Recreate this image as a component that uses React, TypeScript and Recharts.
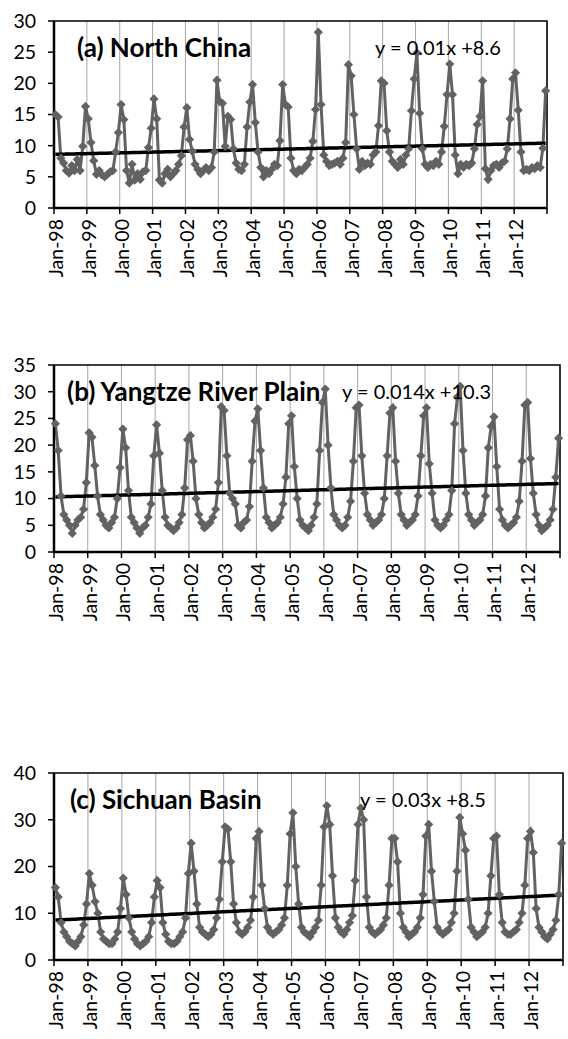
import React from 'react';
import { LineChart, Line, XAxis, YAxis, CartesianGrid, ReferenceArea } from 'recharts';

// monthly values, Jan-98 .. Dec-12, one row per year
const northChina: number[] = [
  15.0, 14.6, 8.0, 7.2, 6.0, 5.6, 6.8, 6.0, 7.8, 6.0, 9.9, 16.3,
  14.3, 10.5, 7.6, 5.4, 6.0, 5.3, 5.0, 5.4, 5.8, 6.0, 9.0, 12.1,
  16.6, 14.2, 6.0, 4.0, 7.0, 4.5, 5.5, 4.6, 5.8, 6.0, 9.7, 12.8,
  17.5, 14.3, 4.5, 4.0, 5.5, 6.2, 5.0, 5.5, 6.0, 7.0, 8.4, 13.0,
  16.1, 11.0, 9.1, 7.0, 6.2, 5.5, 6.0, 6.5, 6.0, 6.5, 9.0, 20.5,
  17.1, 16.8, 9.9, 14.7, 14.2, 9.5, 7.2, 6.2, 6.0, 7.0, 13.0, 17.0,
  19.8, 13.7, 9.0, 6.5, 5.0, 6.0, 5.5, 6.2, 7.0, 6.8, 10.8, 19.8,
  16.6, 16.2, 8.0, 6.0, 5.5, 6.2, 6.0, 6.5, 7.0, 8.0, 10.7, 15.8,
  28.2, 16.6, 8.5, 7.5, 6.8, 7.0, 7.2, 7.5, 7.0, 8.0, 10.5, 23.0,
  21.2, 15.0, 9.5, 6.2, 7.5, 6.8, 7.2, 7.0, 8.5, 9.0, 13.2, 20.4,
  20.0, 12.4, 9.0, 7.5, 7.0, 6.5, 7.8, 7.0, 8.5, 9.5, 15.6, 20.7,
  24.9, 15.2, 9.5, 7.0, 6.5, 7.0, 6.8, 7.5, 7.0, 9.0, 13.1, 18.2,
  23.1, 18.2, 8.5, 5.5, 7.0, 6.5, 7.0, 6.8, 7.2, 9.5, 13.4, 14.7,
  20.4, 6.3, 4.6, 6.0, 6.8, 7.0, 6.5, 7.2, 7.5, 9.5, 14.3, 20.7,
  21.7, 15.7, 9.0, 6.0, 6.2, 6.0, 6.5, 6.3, 6.8, 6.5, 9.6, 18.8,
];

const yangtze: number[] = [
  24.0, 19.0, 10.5, 7.0, 6.0, 5.0, 3.5, 5.0, 6.0, 6.5, 8.0, 13.0,
  22.3, 21.5, 16.2, 10.5, 7.0, 6.0, 5.0, 4.5, 5.5, 6.5, 10.0, 15.8,
  23.0, 19.5, 11.5, 6.5, 5.5, 4.5, 3.5, 4.5, 5.0, 6.5, 9.0, 18.0,
  23.8, 18.5, 11.5, 6.5, 5.0, 4.5, 4.0, 4.5, 5.5, 7.0, 12.0, 21.0,
  21.8, 17.0, 10.0, 7.0, 5.5, 4.5, 5.0, 5.5, 6.5, 8.0, 13.0, 27.2,
  26.5, 18.0, 11.0, 10.0, 9.0, 5.0, 4.5, 5.5, 6.0, 8.5, 17.0, 24.5,
  26.8, 19.0, 12.0, 6.5, 5.5, 4.5, 5.0, 5.5, 6.5, 9.0, 14.0, 24.0,
  25.5, 16.0, 10.0, 6.0, 5.0, 4.5, 4.0, 5.0, 6.5, 9.0, 19.0, 28.0,
  30.5, 20.0, 12.0, 7.0, 6.0, 5.0, 4.5, 5.0, 6.5, 9.5, 17.0, 27.0,
  27.5, 18.0, 11.0, 7.0, 6.0, 5.0, 5.5, 6.0, 7.0, 10.0, 18.0, 26.0,
  27.0, 17.0, 11.0, 7.0, 6.0, 5.0, 5.5, 6.0, 7.0, 10.5, 18.0, 25.5,
  27.0, 16.5, 11.0, 6.0, 5.0, 4.5, 5.0, 6.0, 7.0, 11.5, 24.0, 29.0,
  31.0, 19.0, 11.0, 7.0, 6.0, 5.0, 5.5, 6.0, 7.0, 10.5, 19.5, 23.5,
  25.3, 16.0, 8.0, 6.0, 5.0, 4.5, 5.0, 5.5, 6.5, 9.5, 17.0, 27.5,
  28.0, 17.5, 11.0, 7.0, 5.0, 4.0, 4.5, 5.0, 6.0, 8.0, 14.0, 21.3,
];

const sichuan: number[] = [
  15.5, 13.5, 8.0, 6.0, 5.0, 4.0, 3.5, 3.0, 4.0, 5.0, 7.5, 12.0,
  18.5, 16.0, 12.5, 10.0, 6.0, 4.5, 4.0, 3.5, 3.5, 4.5, 6.0, 11.0,
  17.5, 14.0, 9.0, 6.0, 4.5, 3.5, 3.0, 3.5, 4.0, 5.0, 8.0, 13.5,
  17.0, 15.5, 8.0, 5.5, 4.0, 3.5, 3.5, 4.0, 5.0, 6.0, 9.0, 18.5,
  25.0, 19.0, 12.0, 7.0, 6.0, 5.5, 5.0, 5.5, 6.5, 9.0, 13.0, 21.0,
  28.5, 28.0, 21.0, 12.0, 8.0, 6.0, 5.5, 6.0, 7.0, 8.5, 13.5, 26.0,
  27.5, 16.0, 11.0, 7.0, 6.0, 5.5, 6.0, 6.5, 7.5, 9.0, 16.0, 27.0,
  31.5, 20.0, 12.0, 7.0, 6.0, 5.5, 5.0, 6.0, 7.0, 8.5, 16.0, 28.5,
  33.0, 29.0, 18.0, 9.0, 7.0, 6.0, 5.5, 6.5, 8.0, 9.5, 17.0, 29.0,
  32.5, 30.0, 13.5, 7.0, 6.0, 5.5, 6.0, 6.5, 7.5, 9.0, 16.0, 26.0,
  26.0, 21.0, 10.0, 7.0, 6.0, 5.0, 5.5, 6.0, 7.0, 9.0, 14.0, 26.5,
  29.0, 19.0, 12.5, 7.0, 6.0, 5.5, 6.0, 6.5, 8.0, 10.0, 19.0, 30.5,
  27.0, 23.5, 13.0, 7.0, 6.0, 5.0, 5.5, 6.0, 7.0, 10.0, 18.0, 26.0,
  26.5, 14.0, 8.0, 6.0, 5.5, 5.5, 6.0, 6.5, 8.0, 10.0, 16.0, 26.0,
  27.5, 23.0, 11.0, 7.0, 6.0, 5.0, 4.5, 5.5, 6.5, 8.5, 14.0, 25.0,
];

const yearLabels = [
  'Jan-98', 'Jan-99', 'Jan-00', 'Jan-01', 'Jan-02', 'Jan-03', 'Jan-04', 'Jan-05',
  'Jan-06', 'Jan-07', 'Jan-08', 'Jan-09', 'Jan-10', 'Jan-11', 'Jan-12',
];

// trend lines as printed on the chart: y = slope * x + intercept, x = 1..180
const trendA = { slope: 0.01, intercept: 8.6 };
const trendB = { slope: 0.014, intercept: 10.3 };
const trendC = { slope: 0.03, intercept: 8.5 };

const yTicksA = [0, 5, 10, 15, 20, 25, 30];
const yTicksB = [0, 5, 10, 15, 20, 25, 30, 35];
const yTicksC = [0, 10, 20, 30, 40];

const FONT = 'Lato, "Open Sans", sans-serif';
const GRAY = '#626262';
const xTicks = yearLabels.map((_, i) => i * 12).concat([180]);

const buildRows = (values: number[], trend: { slope: number; intercept: number }) =>
  values.map((v, i) => ({
    t: i + 0.5,
    value: v,
    trend: trend.slope * (i + 1) + trend.intercept,
  }));

const Diamond = (props: any) => {
  const { cx, cy, index } = props;
  if (cx == null || cy == null) return <g key={index} />;
  const r = 4.6;
  return (
    <path
      key={index}
      d={`M${cx},${cy - r}L${cx + r},${cy}L${cx},${cy + r}L${cx - r},${cy}Z`}
      fill={GRAY}
    />
  );
};

interface PanelProps {
  top: number;
  rightMargin: number;
  values: number[];
  trend: { slope: number; intercept: number };
  yTicks: number[];
  title: string;
  equation: string;
  titleLeft: number;
  eqLeft: number;
}

const CHART_W = 568;
const PLOT_LEFT = 54;
const PLOT_TOP = 21;
const PLOT_H = 187;

const Panel: React.FC<PanelProps> = ({ top, rightMargin, values, trend, yTicks, title, equation, titleLeft, eqLeft }) => {
  const rows = buildRows(values, trend);
  const yMax = yTicks[yTicks.length - 1];
  const plotW = CHART_W - PLOT_LEFT - rightMargin;
  const half = plotW / 360;

  const YearTick = (p: any) => {
    const { x, y, payload } = p;
    const idx = Math.round(payload.value / 12);
    const label = yearLabels[idx];
    if (!label) return <g />;
    const tx = x + half;
    const ty = y + 3;
    return (
      <text
        x={tx}
        y={ty}
        transform={`rotate(-90 ${tx} ${ty})`}
        textAnchor="end"
        dominantBaseline="central"
        fontFamily={FONT}
        fontSize={19.5}
        fill="#000"
      >
        {label}
      </text>
    );
  };

  return (
    <div style={{ position: 'absolute', left: 0, top, width: CHART_W, height: 300 }}>
      <LineChart
        width={CHART_W}
        height={300}
        data={rows}
        margin={{ top: PLOT_TOP, right: rightMargin, left: 0, bottom: 0 }}
      >
        <CartesianGrid horizontal={false} stroke="#a6a6a6" strokeWidth={1} />
        <XAxis
          dataKey="t"
          type="number"
          domain={[0, 180]}
          ticks={xTicks}
          interval={0}
          height={300 - PLOT_TOP - PLOT_H}
          tick={YearTick}
          tickSize={6}
          tickLine={{ stroke: '#000', strokeWidth: 1.5 }}
          axisLine={{ stroke: '#000', strokeWidth: 2.5 }}
        />
        <YAxis
          type="number"
          domain={[0, yMax]}
          ticks={yTicks}
          interval={0}
          width={PLOT_LEFT}
          tickSize={6}
          tickMargin={12}
          tickLine={{ stroke: '#000', strokeWidth: 1.5 }}
          axisLine={{ stroke: '#000', strokeWidth: 2.5 }}
          tick={{ fontFamily: FONT, fontSize: 19.5, fill: '#000' }}
        />
        <ReferenceArea x1={0} x2={180} y1={0} y2={yMax} fill="none" stroke="#000" strokeWidth={1.5} />
        <Line
          dataKey="value"
          type="linear"
          stroke={GRAY}
          strokeWidth={3}
          dot={Diamond}
          activeDot={false}
          isAnimationActive={false}
        />
        <Line
          dataKey="trend"
          type="linear"
          stroke="#000"
          strokeWidth={3.5}
          dot={false}
          activeDot={false}
          isAnimationActive={false}
        />
      </LineChart>
      <div
        style={{
          position: 'absolute',
          left: titleLeft,
          top: PLOT_TOP + 11,
          fontFamily: FONT,
          fontWeight: 700,
          fontSize: 26,
          lineHeight: '30px',
          whiteSpace: 'nowrap',
        }}
      >
        {title}
      </div>
      <div
        style={{
          position: 'absolute',
          left: eqLeft,
          top: PLOT_TOP + 15,
          fontFamily: FONT,
          fontSize: 20,
          lineHeight: '22px',
          whiteSpace: 'nowrap',
        }}
      >
        {equation}
      </div>
    </div>
  );
};

export default function App() {
  return (
    <div style={{ position: 'absolute', left: 0, top: 0, width: 568, height: 1039, background: '#fff', overflow: 'hidden' }}>
      <Panel
        top={0}
        rightMargin={21}
        values={northChina}
        trend={trendA}
        yTicks={yTicksA}
        title="(a) North China"
        equation="y = 0.01x +8.6"
        titleLeft={77}
        eqLeft={375}
      />
      <Panel
        top={344}
        rightMargin={8}
        values={yangtze}
        trend={trendB}
        yTicks={yTicksB}
        title="(b) Yangtze River Plain"
        equation="y = 0.014x +10.3"
        titleLeft={67}
        eqLeft={342}
      />
      <Panel
        top={752}
        rightMargin={5}
        values={sichuan}
        trend={trendC}
        yTicks={yTicksC}
        title="(c) Sichuan Basin"
        equation="y = 0.03x +8.5"
        titleLeft={70}
        eqLeft={360}
      />
    </div>
  );
}
